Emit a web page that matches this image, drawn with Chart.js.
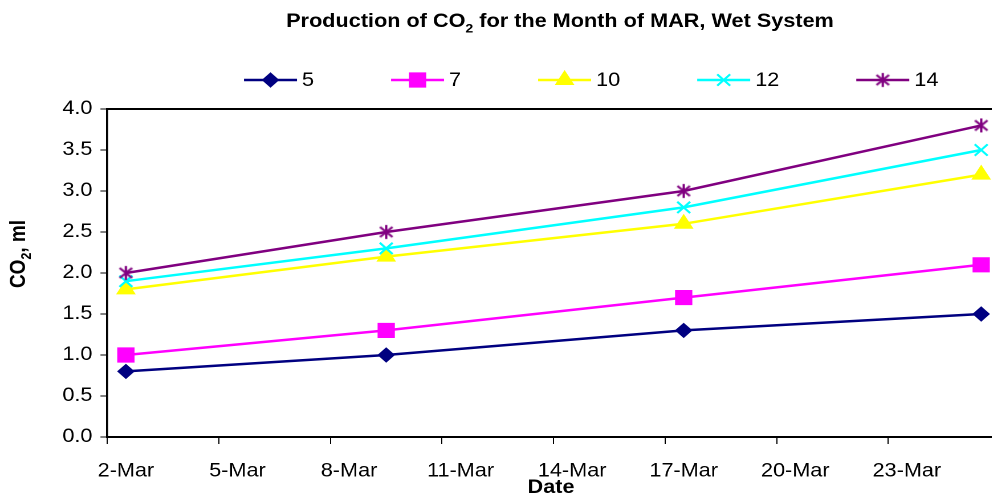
<!DOCTYPE html>
<html>
<head>
<meta charset="utf-8">
<title>Production of CO2 for the Month of MAR, Wet System</title>
<script src="https://cdn.jsdelivr.net/npm/chart.js@4.4.1/dist/chart.umd.min.js"></script>
<style>
  html, body { margin: 0; padding: 0; background: #fff; overflow: hidden; }
  #wrap { width: 1012px; height: 493px; overflow: hidden; }
  /* the chart is laid out narrow and widened horizontally */
  #chart { transform: scaleX(1.14); transform-origin: 0 0; }
</style>
</head>
<body>
<div id="wrap"><canvas id="chart" width="888" height="493"></canvas></div>
<script>
// Sampling dates and CO2 volume (ml) for each run
const sampleDates = ['2-Mar', '9-Mar', '17-Mar', '25-Mar'];
const seriesNames = ['5', '7', '10', '12', '14'];
const co2Run5  = [0.8, 1.0, 1.3, 1.5];
const co2Run7  = [1.0, 1.3, 1.7, 2.1];
const co2Run10 = [1.8, 2.2, 2.6, 3.2];
const co2Run12 = [1.9, 2.3, 2.8, 3.5];
const co2Run14 = [2.0, 2.5, 3.0, 3.8];

// Date axis: one slot per day of the month, labelled every third day
const firstDay = 2;
const lastDay = 25;
const xTickLabels = ['2-Mar', '5-Mar', '8-Mar', '11-Mar', '14-Mar', '17-Mar', '20-Mar', '23-Mar'];
const yMin = 0, yMax = 4, yStep = 0.5;

const dayLabels = [];
for (let d = firstDay; d <= lastDay; d++) dayLabels.push(d + '-Mar');

const FONT = "'Liberation Sans', Arial, sans-serif";
const SX = 1.14;            // horizontal widening applied by CSS
const px = v => v / SX;     // screen x -> canvas x

// Asterisk marker (vertical bar plus an X)
function makeAsterisk(color) {
  const c = document.createElement('canvas');
  c.width = 16; c.height = 16;
  const g = c.getContext('2d');
  g.strokeStyle = color;
  g.lineWidth = 2;
  g.beginPath();
  g.moveTo(8, 1); g.lineTo(8, 15);
  g.moveTo(2.5, 3); g.lineTo(13.5, 13);
  g.moveTo(2.5, 13); g.lineTo(13.5, 3);
  g.stroke();
  return c;
}

const seriesValues = [co2Run5, co2Run7, co2Run10, co2Run12, co2Run14];
const lineColors = ['#000080', '#FF00FF', '#FFFF00', '#00FFFF', '#800080'];
const markerStyles = ['rectRot', 'rect', 'triangle', 'crossRot', makeAsterisk('#800080')];
const markerRadii = [7, 10, 9, 8, 8];
const markerBorders = [1, 1, 1, 2, 0];

const datasets = seriesValues.map((vals, i) => ({
  label: seriesNames[i],
  data: vals.map((v, k) => ({ x: sampleDates[k], y: v })),
  borderColor: lineColors[i],
  backgroundColor: lineColors[i],
  borderWidth: 2.5,
  pointStyle: markerStyles[i],
  pointRadius: markerRadii[i],
  pointHoverRadius: markerRadii[i],
  pointBackgroundColor: lineColors[i],
  pointBorderColor: lineColors[i],
  pointBorderWidth: markerBorders[i],
  tension: 0,
  order: seriesNames.length - 1 - i
}));

// Draws text with a subscript "2" after "CO"
function drawWithSub(ctx, parts, x, y, size, align) {
  ctx.save();
  ctx.textBaseline = 'alphabetic';
  ctx.textAlign = 'left';
  let total = 0;
  const widths = parts.map(p => {
    ctx.font = 'bold ' + (p.sub ? size * 0.65 : size) + 'px ' + FONT;
    const w = ctx.measureText(p.text).width;
    total += w;
    return w;
  });
  let cx = align === 'center' ? x - total / 2 : x;
  parts.forEach((p, i) => {
    ctx.font = 'bold ' + (p.sub ? size * 0.65 : size) + 'px ' + FONT;
    ctx.fillText(p.text, cx, y + (p.sub ? size * 0.28 : 0));
    cx += widths[i];
  });
  ctx.restore();
}

const decorations = {
  id: 'decorations',
  afterDraw(chart) {
    const ctx = chart.ctx;
    const area = chart.chartArea;
    ctx.save();
    ctx.fillStyle = '#000';

    // plot frame top edge
    ctx.strokeStyle = '#000';
    ctx.lineWidth = 2;
    ctx.beginPath();
    ctx.moveTo(area.left, area.top);
    ctx.lineTo(area.right, area.top);
    ctx.stroke();

    // title
    drawWithSub(ctx, [
      { text: 'Production of CO' },
      { text: '2', sub: true },
      { text: ' for the Month of MAR, Wet System' }
    ], px(560), 27, 19, 'center');

    // y-axis title (rotated)
    ctx.save();
    ctx.translate(px(25), 254);
    ctx.rotate(-Math.PI / 2);
    drawWithSub(ctx, [
      { text: 'CO' }, { text: '2', sub: true }, { text: ', ml' }
    ], 0, 0, 19, 'center');
    ctx.restore();

    // x-axis title
    ctx.font = 'bold 19px ' + FONT;
    ctx.textAlign = 'center';
    ctx.textBaseline = 'alphabetic';
    ctx.fillText('Date', px(551), 493);

    // legend
    const legendY = 80;
    const lineLen = px(53);
    let lx = px(244);
    chart.data.datasets.forEach((ds) => {
      ctx.strokeStyle = ds.borderColor;
      ctx.lineWidth = 2.5;
      ctx.beginPath();
      ctx.moveTo(lx, legendY);
      ctx.lineTo(lx + lineLen, legendY);
      ctx.stroke();
      ctx.fillStyle = ds.pointBackgroundColor;
      ctx.strokeStyle = ds.pointBorderColor;
      ctx.lineWidth = ds.pointBorderWidth;
      Chart.helpers.drawPoint(ctx, {
        pointStyle: ds.pointStyle,
        radius: ds.pointRadius,
        rotation: 0,
        borderWidth: ds.pointBorderWidth
      }, lx + lineLen / 2, legendY);
      ctx.fillStyle = '#000';
      ctx.font = '19px ' + FONT;
      ctx.textAlign = 'left';
      ctx.textBaseline = 'middle';
      ctx.fillText(ds.label, lx + lineLen + px(5), legendY + 1);
      lx += lineLen + px(5) + ctx.measureText(ds.label).width + px(77);
    });
    ctx.restore();
  }
};

new Chart(document.getElementById('chart'), {
  type: 'line',
  data: { labels: dayLabels, datasets },
  options: {
    responsive: false,
    animation: false,
    devicePixelRatio: 2,
    events: [],
    layout: { padding: { top: 109, right: 888 - px(1001.3), left: 0, bottom: 0 } },
    plugins: {
      legend: { display: false },
      title: { display: false },
      tooltip: { enabled: false }
    },
    scales: {
      x: {
        type: 'category',
        offset: true,
        afterFit(scale) { scale.height = 56; },
        grid: {
          offset: true,
          drawOnChartArea: false,
          drawTicks: true,
          tickLength: 7,
          tickWidth: 1,
          color: ctx => (ctx.index % 3 === 0 ? '#000' : 'rgba(0,0,0,0)'),
          tickColor: ctx => (ctx.index % 3 === 0 ? '#000' : 'rgba(0,0,0,0)')
        },
        border: { display: true, color: '#000', width: 2 },
        ticks: {
          autoSkip: false,
          maxRotation: 0,
          minRotation: 0,
          padding: 16,
          color: '#000',
          font: { family: FONT, size: 19 },
          callback(value) {
            const lbl = this.getLabelForValue(value);
            return xTickLabels.includes(lbl) ? lbl : '';
          }
        }
      },
      y: {
        min: yMin,
        max: yMax,
        afterFit(scale) { scale.width = px(107.3); },
        grid: {
          drawOnChartArea: false,
          drawTicks: true,
          tickLength: 6,
          tickWidth: 1,
          color: '#000',
          tickColor: '#000'
        },
        border: { display: true, color: '#000', width: 1.8 },
        ticks: {
          stepSize: yStep,
          padding: 7,
          color: '#000',
          font: { family: FONT, size: 19 },
          callback: v => Number(v).toFixed(1)
        }
      }
    }
  },
  plugins: [decorations]
});
</script>
</body>
</html>
